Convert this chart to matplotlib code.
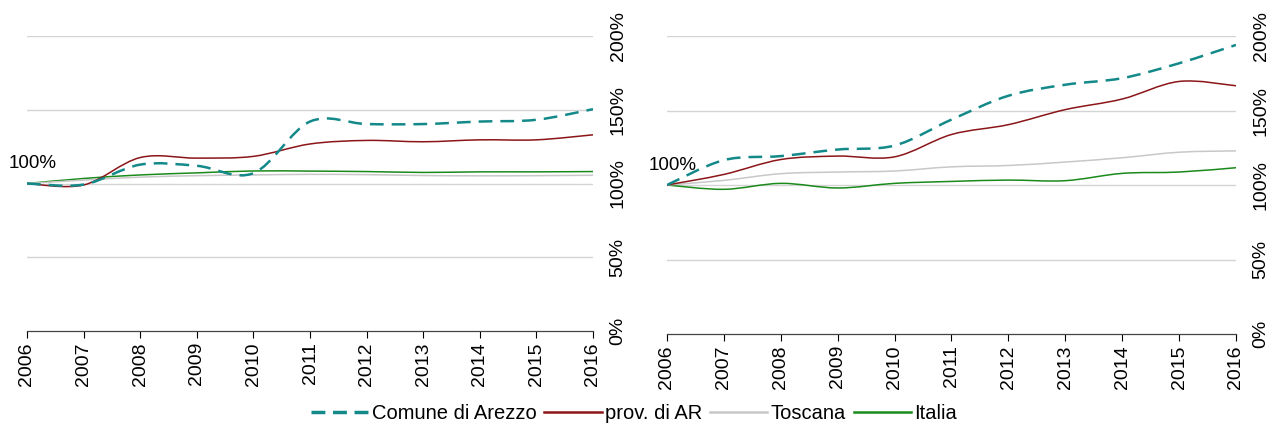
import matplotlib
matplotlib.use("Agg")
import matplotlib.pyplot as plt
from matplotlib.path import Path
from matplotlib.patches import PathPatch
from matplotlib.lines import Line2D
import numpy as np

plt.rcParams['font.family'] = ['Liberation Sans', 'DejaVu Sans']

years = [2006, 2007, 2008, 2009, 2010, 2011, 2012, 2013, 2014, 2015, 2016]
series_names = ["Comune di Arezzo", "prov. di AR", "Toscana", "Italia"]

# left panel (index 2006 = 100)
arezzo_left = [100, 99.3, 112.8, 112.0, 107.0, 142.0, 140.3, 140.3, 142.0, 143.2, 150.4]
prov_left = [100, 99.0, 117.6, 117.2, 118.4, 126.8, 129.2, 128.3, 129.6, 129.6, 133.0]
toscana_left = [100, 102.3, 104.3, 105.3, 105.8, 106.2, 106.0, 105.4, 105.2, 105.3, 105.6]
italia_left = [100, 103.4, 105.8, 107.2, 108.5, 108.4, 108.1, 107.5, 107.9, 107.9, 108.1]

# right panel
arezzo_right = [100, 116.7, 119.4, 123.8, 126.5, 143.9, 159.9, 167.3, 171.7, 181.7, 194.0]
prov_right = [100, 107.1, 117.1, 119.4, 118.9, 133.9, 140.5, 150.6, 157.7, 169.5, 166.6]
toscana_right = [100, 103.1, 107.6, 108.7, 109.4, 112.2, 113.1, 115.4, 118.3, 122.0, 122.9]
italia_right = [100, 97.1, 101.1, 98.0, 101.1, 102.4, 103.3, 102.9, 107.8, 108.7, 111.6]

y_ticks = [0, 50, 100, 150, 200]
y_ticklabels = ["0%", "50%", "100%", "150%", "200%"]

colors = ["#14898a", "#8b1518", "#c8c8c8", "#1a8a1a"]
widths = [1.8, 1.1, 1.1, 1.1]
dashes = [(5.5, 3.2), None, None, None]


def smooth_path(x, y):
    # excel-like smoothed line: catmull-rom segments as cubic bezier
    x = np.asarray(x, float)
    y = np.asarray(y, float)
    pts = np.column_stack([x, y])
    n = len(pts)
    verts = [pts[0]]
    codes = [Path.MOVETO]
    for i in range(n - 1):
        p0 = pts[i - 1] if i > 0 else pts[i]
        p1 = pts[i]
        p2 = pts[i + 1]
        p3 = pts[i + 2] if i + 2 < n else pts[i + 1]
        c1 = p1 + (p2 - p0) / 6.0
        c2 = p2 - (p3 - p1) / 6.0
        verts += [c1, c2, p2]
        codes += [Path.CURVE4] * 3
    return Path(verts, codes)


def draw_panel(ax, data):
    for yv in y_ticks[1:]:
        ax.axhline(yv, color="#d4d4d4", lw=1.0, zorder=0)
    # grey and green first, then red, dashed on top
    for k in [2, 3, 1, 0]:
        patch = PathPatch(smooth_path(years, data[k]), facecolor="none",
                          edgecolor=colors[k], lw=widths[k], zorder=3 + (3 - k),
                          capstyle="butt")
        if dashes[k] is not None:
            patch.set_linestyle((0, dashes[k]))
        ax.add_patch(patch)
    ax.set_xlim(years[0], years[-1])
    ax.set_ylim(0, 200)
    ax.set_xticks(years)
    ax.set_xticklabels([str(y) for y in years], rotation=90, fontsize=14)
    ax.set_yticks(y_ticks)
    ax.set_yticklabels(y_ticklabels, rotation=90, va="center", fontsize=14)
    ax.yaxis.tick_right()
    ax.tick_params(axis="y", length=0, pad=12)
    ax.tick_params(axis="x", length=5, width=0.8, direction="out", pad=3)
    for s in ["top", "left", "right"]:
        ax.spines[s].set_visible(False)
    ax.spines["bottom"].set_color("#444444")
    ax.spines["bottom"].set_linewidth(0.9)
    ax.annotate("100%", xy=(years[0], data[0][0]), xytext=(-13.5, 8),
                textcoords="offset points", fontsize=13.5, ha="left", va="bottom")


fig = plt.figure(figsize=(12.68, 4.25), dpi=100)
ax1 = fig.add_axes([27 / 1268, 94 / 425, 566 / 1268, 295 / 425])
ax2 = fig.add_axes([667 / 1268, 91 / 425, 569 / 1268, 298 / 425])

draw_panel(ax1, [arezzo_left, prov_left, toscana_left, italia_left])
draw_panel(ax2, [arezzo_right, prov_right, toscana_right, italia_right])

handles = []
for k in range(4):
    h = Line2D([], [], color=colors[k], lw=widths[k] + 0.7)
    if dashes[k] is not None:
        h.set_dashes((4, 2.2))
    handles.append(h)
fig.legend(handles, series_names, loc="center", bbox_to_anchor=(0.5, 0.027),
           ncol=4, frameon=False, handlelength=2.85, handletextpad=0.15,
           columnspacing=0.4, prop={"size": 14.5})

fig.savefig("out.png", dpi=100)
